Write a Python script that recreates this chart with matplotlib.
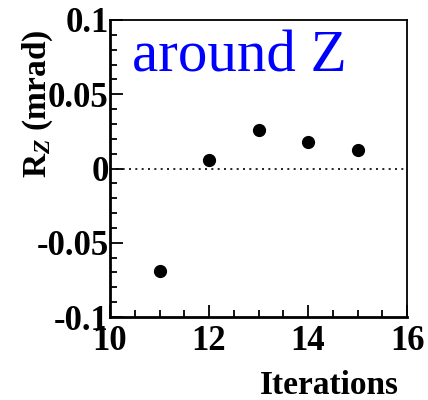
import numpy as np
import matplotlib
matplotlib.use("Agg")
import matplotlib.pyplot as plt
from matplotlib.ticker import MultipleLocator, FixedFormatter, FixedLocator

# donnees
iterations = [11, 12, 13, 14, 15]
rz = [-0.069, 0.0057, 0.026, 0.0176, 0.0123]

xticks = [10, 12, 14, 16]
yticks = [-0.1, -0.05, 0, 0.05, 0.1]
yticklabels = ["-0.1", "-0.05", "0", "0.05", "0.1"]

plt.rcParams['font.family'] = ['Liberation Serif', 'DejaVu Serif']
plt.rcParams['mathtext.fontset'] = 'custom'
plt.rcParams['mathtext.rm'] = 'Liberation Serif:bold'
plt.rcParams['mathtext.it'] = 'Liberation Serif:bold:italic'
plt.rcParams['mathtext.bf'] = 'Liberation Serif:bold'

fig = plt.figure(figsize=(4.28, 4.0), dpi=100)
ax = fig.add_axes([110/428, 1 - 317/400, 297/428, 297/400])

ax.axhline(0, color='black', lw=1.2, ls=(0, (1.2, 2.6)), zorder=1)
ax.plot(iterations, rz, 'o', color='black', ms=8.5, zorder=3)

ax.set_xlim(10, 16)
ax.set_ylim(-0.1, 0.1)
ax.xaxis.set_major_locator(FixedLocator(xticks))
ax.xaxis.set_minor_locator(MultipleLocator(0.5))
ax.yaxis.set_major_locator(FixedLocator(yticks))
ax.yaxis.set_major_formatter(FixedFormatter(yticklabels))
ax.yaxis.set_minor_locator(MultipleLocator(0.01))

ax.tick_params(which='both', direction='in', top=False, right=False, width=1.3)
ax.tick_params(which='major', length=9)
ax.tick_params(which='minor', length=5)
ax.tick_params(axis='y', pad=1)
ax.tick_params(axis='x', pad=6)
for lab in ax.get_xticklabels() + ax.get_yticklabels():
    lab.set_fontsize(25)
    lab.set_fontweight('bold')

for s in ax.spines.values():
    s.set_linewidth(1.3)
ax.spines['left'].set_linewidth(2)
ax.spines['bottom'].set_linewidth(2)

ax.text(0.075, 0.825, "around Z", transform=ax.transAxes, color='blue',
        fontsize=42.5, ha='left', va='baseline')

fig.text(399/428, 1 - 386/400, "Iterations", fontsize=24, fontweight='bold',
         ha='right', va='center')
fig.text(38/428, 1 - 104/400, r"R$_{\mathit{Z}}$ (mrad)", fontsize=24, fontweight='bold',
         rotation=90, ha='center', va='center')

fig.savefig("out.png", dpi=100)
